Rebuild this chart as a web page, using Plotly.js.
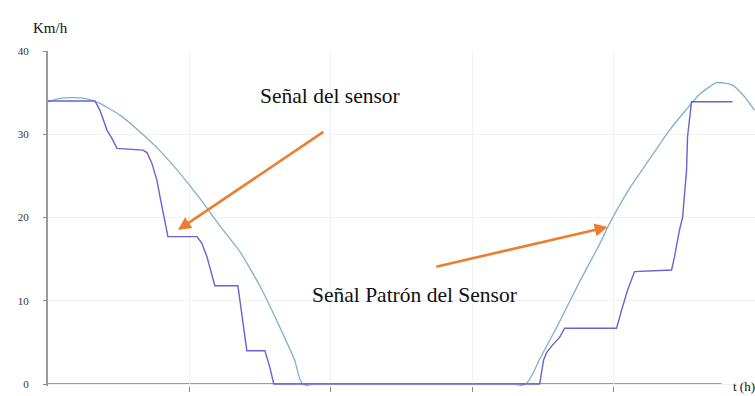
<!DOCTYPE html>
<html>
<head>
<meta charset="utf-8">
<script src="https://cdn.plot.ly/plotly-3.0.1.min.js"></script>
<style>html,body{margin:0;padding:0;background:#fff;}#chart{width:755px;height:396px;}</style>
</head>
<body>
<div id="chart"></div>
<script>
// Señal Patrón del Sensor (smooth reference curve)
const patronT = [0,0.085,0.155,0.261,0.367,0.509,0.650,0.792,0.933,1.074,1.216,1.357,1.498,1.640,1.746,1.802,
  3.378,3.477,3.597,3.760,3.901,3.972,4.113,4.254,4.396,4.516,4.608,4.728,4.841,4.926,4.996];
const patronV = [33.9,34.3,34.4,34.3,33.7,32.3,30.3,28.0,25.3,22.3,19.0,15.9,11.8,6.8,2.8,0,
  0,3.0,6.8,12.3,16.8,19.3,23.5,27.0,30.5,33.0,34.8,36.2,35.9,34.5,32.9];

// Señal del sensor (stepped measured curve)
const sensorT = [0,0.332,0.367,0.417,0.452,0.488,0.671,0.700,0.735,0.770,0.792,0.827,0.848,1.053,1.088,1.124,1.159,1.180,
  1.343,1.371,1.406,1.534,1.569,1.597,3.477,3.505,3.527,3.569,3.618,3.654,4.021,4.057,4.099,4.148,4.410,4.431,4.466,
  4.488,4.516,4.523,4.551,4.841];
const sensorV = [34.0,34.0,32.9,30.5,29.5,28.3,28.1,27.8,26.5,24.5,22.5,19.7,17.7,17.7,16.9,15.3,13.3,11.8,
  11.8,8.5,4.0,4.0,2.0,0,0,2.9,3.8,4.7,5.6,6.7,6.7,8.9,11.3,13.5,13.7,15.3,18.5,
  20.0,25.7,29.7,33.9,33.9];

const yTicks = [0,10,20,30,40];
const xTicks = [1,2,3,4];

const serif = "Liberation Serif";

const traces = [
  {x: patronT, y: patronV, mode: 'lines', line: {color: '#7fb0cf', width: 1.3, shape: 'spline', smoothing: 0.5}, hoverinfo: 'skip', name: 'Señal Patrón del Sensor'},
  {x: sensorT, y: sensorV, mode: 'lines', line: {color: '#6b60d4', width: 1.4}, hoverinfo: 'skip', name: 'Señal del sensor'}
];

const layout = {
  width: 755, height: 396,
  margin: {l: 48, r: 0, t: 51, b: 10},
  paper_bgcolor: '#ffffff', plot_bgcolor: '#ffffff',
  showlegend: false,
  font: {family: serif},
  xaxis: {
    range: [0, 5], tickvals: xTicks, showticklabels: false,
    ticks: 'outside', ticklen: 5, tickcolor: '#888', tickwidth: 1,
    showgrid: true, gridcolor: '#f1f1f1', gridwidth: 1,
    zeroline: false, showline: false, fixedrange: true
  },
  yaxis: {
    range: [-0.24, 40], tickvals: yTicks,
    ticks: 'outside', ticklen: 3, tickcolor: '#888', tickwidth: 1,
    ticklabelstandoff: 12,
    tickfont: {family: serif, size: 11, color: '#333'},
    showgrid: true, gridcolor: '#f1f1f1', gridwidth: 1,
    zeroline: false, showline: true, linecolor: '#9a9a9a', linewidth: 2, fixedrange: true
  },
  shapes: [
    {type: 'line', xref: 'x', yref: 'y', x0: 0, x1: 4.763, y0: 0, y1: 0,
     line: {color: '#9a9a9a', width: 2}, layer: 'below'}
  ],
  annotations: [
    {xref: 'x', yref: 'y', x: 0.919, y: 18.5, ax: 1.958, ay: 30.4, axref: 'x', ayref: 'y',
     showarrow: true, arrowhead: 2, arrowsize: 1, arrowwidth: 2.6, arrowcolor: '#ed7d31', text: ''},
    {xref: 'x', yref: 'y', x: 3.958, y: 18.86, ax: 2.735, ay: 14.05, axref: 'x', ayref: 'y',
     showarrow: true, arrowhead: 2, arrowsize: 1, arrowwidth: 2.6, arrowcolor: '#ed7d31', text: ''},
    {xref: 'x', yref: 'y', x: 1.993, y: 34.6, xanchor: 'center', yanchor: 'middle', showarrow: false,
     text: 'Señal del sensor', font: {family: serif, size: 21.5, color: '#111'}},
    {xref: 'x', yref: 'y', x: 2.594, y: 10.7, xanchor: 'center', yanchor: 'middle', showarrow: false,
     text: 'Señal Patrón del Sensor', font: {family: serif, size: 21.5, color: '#111'}},
    {xref: 'paper', yref: 'paper', x: -0.024, y: 1.069, xanchor: 'left', yanchor: 'middle', showarrow: false,
     text: 'Km/h', font: {family: serif, size: 15, color: '#111'}},
    {xref: 'paper', yref: 'paper', x: 0.966, y: 0.0, xanchor: 'left', yanchor: 'middle', showarrow: false,
     text: 't (h)', font: {family: serif, size: 13, color: '#111'}}
  ]
};

Plotly.newPlot('chart', traces, layout, {staticPlot: true, displayModeBar: false});
</script>
</body>
</html>
